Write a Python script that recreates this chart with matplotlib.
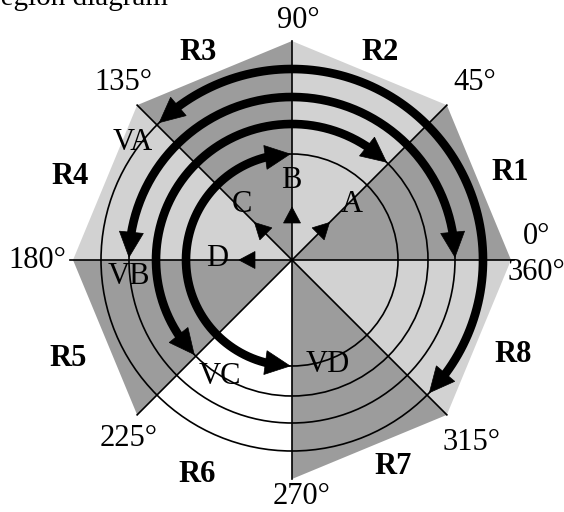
import numpy as np
import matplotlib
matplotlib.use('Agg')
import matplotlib.pyplot as plt
from matplotlib.patches import Polygon, Circle

plt.rcParams['font.family'] = ['Liberation Serif', 'DejaVu Serif']

# ---- data ----
boundary_angles = [0, 45, 90, 135, 180, 225, 270, 315]
octant_shades = ['#9c9c9c', '#d2d2d2', '#9c9c9c', '#d2d2d2',
                 '#9c9c9c', '#ffffff', '#9c9c9c', '#d2d2d2']
region_labels = ['R1', 'R2', 'R3', 'R4', 'R5', 'R6', 'R7', 'R8']
angle_labels = ['0°', '45°', '90°', '135°', '180°', '225°', '270°', '315°', '360°']
ring_radii = [191, 163, 136, 106]
vector_names = ['A', 'B', 'C', 'D']
vector_angles = [45, 90, 135, 180]
ring_names = ['VA', 'VB', 'VC', 'VD']
arc_half_span = 89

# ---- layout ----
octagon_radius = 219
region_label_pos = [(218, 87), (88, 208), (-94, 207), (-222, 83),
                    (-224, -99), (-95, -214), (101, -206), (221, -95)]
angle_label_pos = [(245, 24), (183, 177), (6, 239), (-169, 177), (-255, -1),
                   (-163, -179), (10, -237), (180, -183), (244, -13)]
vector_label_pos = [(60, 55), (-1, 80), (-50, 55), (-75, 2)]
ring_label_pos = [(-159, 117), (-163, -16), (-72, -117), (36, -104)]

fig = plt.figure(figsize=(5.64, 5.12), dpi=100)
ax = fig.add_axes([0, 0, 1, 1])
ax.set_xlim(-292, 272)
ax.set_ylim(-252, 260)
ax.set_aspect('equal')
ax.axis('off')

R = octagon_radius
for a, shade in zip(boundary_angles, octant_shades):
    a0, a1 = np.radians(a), np.radians(a + 45)
    pts = [(0, 0), (R * np.cos(a0), R * np.sin(a0)), (R * np.cos(a1), R * np.sin(a1))]
    ax.add_patch(Polygon(pts, closed=True, fc=shade, ec='none', zorder=1))

for a in boundary_angles:
    ar = np.radians(a)
    ext = 3 if a in (0, 180) else 0
    ax.plot([0, (R + ext) * np.cos(ar)], [0, (R + ext) * np.sin(ar)],
            color='black', lw=1.2, zorder=2)

for r in ring_radii:
    ax.add_patch(Circle((0, 0), r, fill=False, ec='black', lw=1.2, zorder=2))

L, W = 25, 12


def arrowhead(tip, base, w):
    tip = np.array(tip)
    base = np.array(base)
    d = tip - base
    d = d / np.hypot(*d)
    p = np.array([-d[1], d[0]])
    return [tip, base + w * p, base - w * p]


for r, va in zip(ring_radii, vector_angles):
    t_start = np.radians(va - arc_half_span)
    t_end = np.radians(va + arc_half_span)
    dl = L / r
    t = np.linspace(t_start + dl * 0.8, t_end - dl * 0.8, 200)
    ax.plot(r * np.cos(t), r * np.sin(t), color='black', lw=6.2,
            solid_capstyle='butt', zorder=3)
    for te, tb in ((t_end, t_end - dl), (t_start, t_start + dl)):
        tri = arrowhead((r * np.cos(te), r * np.sin(te)),
                        (r * np.cos(tb), r * np.sin(tb)), W)
        ax.add_patch(Polygon(tri, closed=True, fc='black', ec='black', lw=0.5, zorder=4))

for va in vector_angles:
    ar = np.radians(va)
    u = np.array([np.cos(ar), np.sin(ar)])
    tri = arrowhead(53 * u, 37 * u, 8.5)
    ax.add_patch(Polygon(tri, closed=True, fc='black', ec='black', lw=0.5, zorder=4))

fs = 22
for lab, (x, y) in zip(region_labels, region_label_pos):
    ax.text(x, y, lab, fontsize=fs, fontweight='bold', ha='center', va='center', zorder=5)
for lab, (x, y) in zip(angle_labels, angle_label_pos):
    ax.text(x, y, lab, fontsize=fs, ha='center', va='center', zorder=5)
for lab, (x, y) in zip(vector_names, vector_label_pos):
    ax.text(x, y, lab, fontsize=fs, ha='center', va='center', zorder=5)
for lab, (x, y) in zip(ring_names, ring_label_pos):
    ax.text(x, y, lab, fontsize=fs, ha='center', va='center', zorder=5)

ax.text(-301, 255, 'region diagram', fontsize=21, ha='left', va='baseline', zorder=5)

fig.savefig('out.png', dpi=100)
